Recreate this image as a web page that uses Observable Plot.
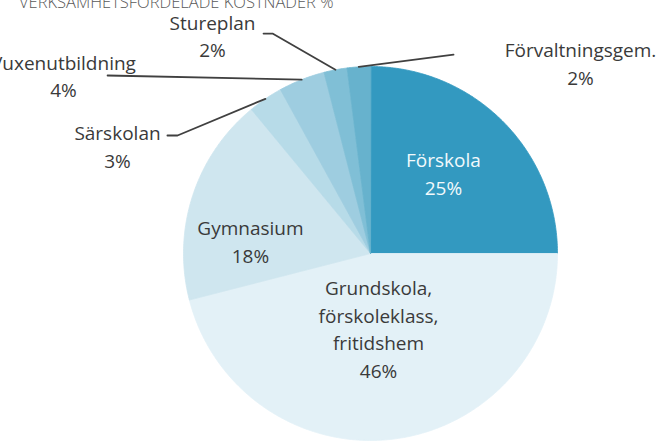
<!DOCTYPE html>
<html>
<head>
<meta charset="utf-8">
<script src="https://cdn.jsdelivr.net/npm/d3@7"></script>
<script src="https://cdn.jsdelivr.net/npm/@observablehq/plot@0.6"></script>
<style>
  html, body { margin: 0; padding: 0; background: #fff; overflow: hidden; }
  #wrap { position: relative; width: 662px; height: 441px; overflow: hidden; }
  #title { position: absolute; left: 19px; top: -10px; font-family: "Open Sans", sans-serif; font-weight: 300;
           font-size: 16.5px; color: #595959; white-space: nowrap; z-index: 2; }
</style>
</head>
<body>
<div id="wrap">
  <div id="title">VERKSAMHETSFÖRDELADE KOSTNADER %</div>
  <div id="chart"></div>
</div>
<script>
// ---- data ----
const names = ["Förskola", "Grundskola, förskoleklass, fritidshem", "Gymnasium", "Särskolan", "Vuxenutbildning", "Stureplan", "Förvaltningsgem."];
const labelText = ["Förskola", "Grundskola,\nförskoleklass,\nfritidshem", "Gymnasium", "Särskolan", "Vuxenutbildning", "Stureplan", "Förvaltningsgem."];
const shares = [25, 46, 18, 3, 4, 2, 2];
const colors = ["#3399c0", "#e3f1f7", "#cfe6ef", "#b7dbe8", "#9ecde0", "#80bfd6", "#67b2cd"];

// label anchors in pie-radius units (annotation placement)
const labelX = [0.39, 0.043, -0.642, -1.353, -1.642, -0.845, 1.123];
const labelY = [0.436, -0.396, 0.07, 0.578, 0.957, 1.171, 1.024];
const textFill = ["#f2f9fc", "#3a3a3a", "#3a3a3a", "#3a3a3a", "#3a3a3a", "#3a3a3a", "#3a3a3a"];
// leader-line start (near label) and elbow, for outside labels; null = no leader
const leaderStart = [null, null, null, [-1.086, 0.631], [-1.406, 0.952], [-0.572, 1.176], [0.444, 1.064]];
const leaderElbow = [null, null, null, [-1.032, 0.631], [-1.406, 0.952], [-0.524, 1.176], [0.444, 1.064]];

// ---- build geometry from values ----
const pie = d3.pie().sort(null).value(d => d)(shares);
const slicePts = [];
pie.forEach((p, i) => {
  slicePts.push({name: names[i], x: 0, y: 0});
  const steps = Math.max(4, Math.ceil((p.endAngle - p.startAngle) / (Math.PI / 360)));
  for (let k = 0; k <= steps; k++) {
    const a = p.startAngle + (p.endAngle - p.startAngle) * k / steps;
    slicePts.push({name: names[i], x: Math.sin(a), y: Math.cos(a)});
  }
});
const labels = names.map((n, i) => ({name: n, text: labelText[i] + "\n" + shares[i] + "%", x: labelX[i], y: labelY[i], fill: textFill[i]}));
const leaders = [];
pie.forEach((p, i) => {
  if (!leaderStart[i]) return;
  const mid = (p.startAngle + p.endAngle) / 2;
  leaders.push({name: names[i], x: leaderStart[i][0], y: leaderStart[i][1]});
  leaders.push({name: names[i], x: leaderElbow[i][0], y: leaderElbow[i][1]});
  leaders.push({name: names[i], x: Math.sin(mid), y: Math.cos(mid)});
});

const R = 187, cx = 370, cy = 253, W = 662, H = 441;
const chart = Plot.plot({
  width: W, height: H,
  margin: 0,
  x: {domain: [-cx / R, (W - cx) / R], axis: null},
  y: {domain: [(cy - H) / R, cy / R], axis: null},
  color: {type: "ordinal", domain: names, range: colors},
  style: {fontFamily: "'Open Sans', sans-serif", background: "transparent", overflow: "visible"},
  marks: [
    Plot.line(slicePts, {x: "x", y: "y", z: "name", fill: "name", stroke: "name", strokeWidth: 0.8, curve: "linear-closed"}),
    Plot.line(leaders, {x: "x", y: "y", z: "name", stroke: "#404040", strokeWidth: 1.8}),
    Plot.text(labels, {x: "x", y: "y", text: "text", fill: d => d.fill, fontSize: 19, lineHeight: 1.47, textAnchor: "middle"})
  ]
});
document.getElementById("chart").appendChild(chart);
</script>
</body>
</html>
